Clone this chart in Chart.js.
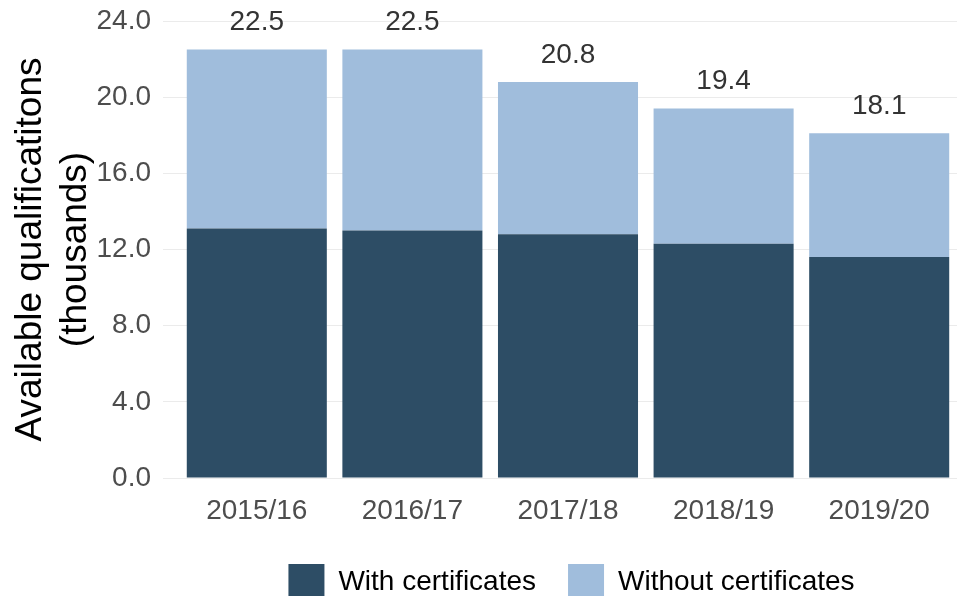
<!DOCTYPE html>
<html>
<head>
<meta charset="utf-8">
<script src="https://cdn.jsdelivr.net/npm/chart.js@4.4.1/dist/chart.umd.min.js"></script>
<style>
  html, body { margin: 0; padding: 0; background: #fff; overflow: hidden; }
  #wrap { width: 957px; height: 610px; position: relative; }
</style>
</head>
<body>
<div id="wrap"><canvas id="chart"></canvas></div>
<script>
const years = ["2015/16", "2016/17", "2017/18", "2018/19", "2019/20"];
const withCerts = [13.1, 13.0, 12.8, 12.3, 11.6];
const withoutCerts = [9.4, 9.5, 8.0, 7.1, 6.5];
const totals = [22.5, 22.5, 20.8, 19.4, 18.1];

const fontFamily = "'Liberation Sans', Arial, sans-serif";

// totals written above each stack
const totalLabels = {
  id: "totalLabels",
  afterDatasetsDraw(chart) {
    const ctx = chart.ctx;
    const y = chart.scales.y;
    const meta = chart.getDatasetMeta(1);
    ctx.save();
    ctx.font = "28px " + fontFamily;
    ctx.fillStyle = "#333333";
    ctx.textAlign = "center";
    ctx.textBaseline = "middle";
    meta.data.forEach((bar, i) => {
      ctx.fillText(totals[i].toFixed(1), bar.x, y.getPixelForValue(totals[i]) - 27);
    });
    ctx.restore();
  }
};

// legend sits under the panel, a bit right of the page centre
const shiftLegend = {
  id: "shiftLegend",
  afterLayout(chart) {
    chart.legend.left += 93;
    chart.legend.right += 93;
  }
};

new Chart(document.getElementById("chart"), {
  type: "bar",
  data: {
    labels: years,
    datasets: [
      {
        label: "With certificates",
        data: withCerts,
        backgroundColor: "#2d4d65",
        categoryPercentage: 0.9,
        barPercentage: 1.0
      },
      {
        label: "Without certificates",
        data: withoutCerts,
        backgroundColor: "#a0bddc",
        categoryPercentage: 0.9,
        barPercentage: 1.0
      }
    ]
  },
  options: {
    responsive: true,
    maintainAspectRatio: false,
    animation: false,
    layout: { padding: { top: 21, right: 0, left: 0, bottom: 0 } },
    plugins: {
      legend: {
        position: "bottom",
        labels: {
          boxWidth: 36,
          boxHeight: 36,
          padding: 32,
          color: "#000000",
          font: { family: fontFamily, size: 28 }
        }
      },
      tooltip: { enabled: false }
    },
    scales: {
      x: {
        stacked: true,
        grid: { display: false },
        border: { display: false },
        ticks: {
          color: "#4d4d4d",
          padding: 8,
          font: { family: fontFamily, size: 28 }
        },
        afterFit(scale) { scale.height = 54; }
      },
      y: {
        stacked: true,
        min: 0,
        max: 24,
        border: { display: false },
        grid: { color: "#ebebeb", lineWidth: 1, tickLength: 16, tickColor: "#ebebeb" },
        ticks: {
          stepSize: 4,
          color: "#4d4d4d",
          padding: 12,
          font: { family: fontFamily, size: 28 },
          callback: v => v.toFixed(1)
        },
        title: {
          display: true,
          text: ["Available qualificatitons", "(thousands)"],
          color: "#000000",
          padding: { top: 9, bottom: 0 },
          font: { family: fontFamily, size: 37 }
        },
        afterFit(scale) {
          scale.width = 179;
          scale.paddingTop = 0;
          scale.paddingBottom = 0;
        }
      }
    }
  },
  plugins: [totalLabels, shiftLegend]
});
</script>
</body>
</html>
